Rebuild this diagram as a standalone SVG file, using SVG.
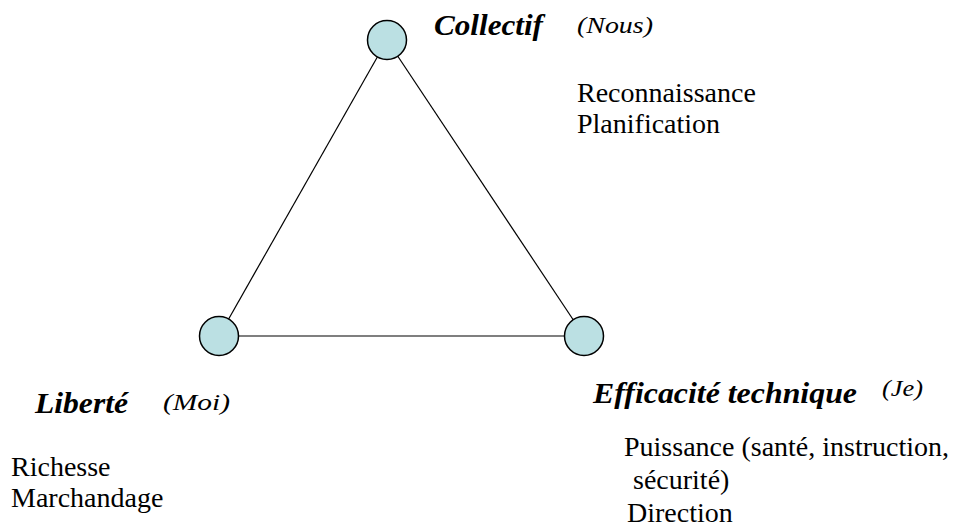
<svg xmlns="http://www.w3.org/2000/svg" width="961" height="524" viewBox="0 0 961 524">
<style>
.node{fill:#bbe0e3;stroke:#000;stroke-width:1.5}
.edge{stroke:#000;stroke-width:1.2;fill:none}
text{font-family:"Liberation Serif","DejaVu Serif",serif;fill:#000}
.title{font-weight:bold;font-style:italic;font-size:30px}
.pron{font-style:italic;font-size:24px}
.body{font-style:normal;font-weight:normal;font-size:28px}
</style>
<rect width="961" height="524" fill="#fff"/>
<g id="connectors">
<line class="edge" x1="387" y1="40" x2="219" y2="336"/>
<line class="edge" x1="387" y1="40" x2="584" y2="336"/>
<line class="edge" x1="219" y1="336" x2="584" y2="336"/>
</g>
<g id="node-collectif">
<circle class="node" cx="387" cy="40" r="19.5"/>
<text class="title" x="434" y="35" textLength="109" lengthAdjust="spacingAndGlyphs">Collectif</text>
<text class="pron" x="577" y="33" textLength="76" lengthAdjust="spacingAndGlyphs">(Nous)</text>
<text class="body" x="577" y="102" font-family="Liberation Serif, serif">Reconnaissance</text>
<text class="body" x="577" y="133" font-family="Liberation Serif, serif">Planification</text>
</g>
<g id="node-liberte">
<circle class="node" cx="219" cy="336" r="19.5"/>
<text class="title" x="35" y="413" textLength="93" lengthAdjust="spacingAndGlyphs">Liberté</text>
<text class="pron" x="163" y="410" textLength="67" lengthAdjust="spacingAndGlyphs">(Moi)</text>
<text class="body" x="11" y="476">Richesse</text>
<text class="body" x="11" y="507">Marchandage</text>
</g>
<g id="node-efficacite">
<circle class="node" cx="584" cy="336" r="19.5"/>
<text class="title" x="593" y="403" textLength="264" lengthAdjust="spacingAndGlyphs">Efficacité technique</text>
<text class="pron" x="882" y="396" textLength="41" lengthAdjust="spacingAndGlyphs">(Je)</text>
<text class="body" x="624" y="456">Puissance (santé, instruction,</text>
<text class="body" x="633" y="489">sécurité)</text>
<text class="body" x="627" y="522">Direction</text>
</g>
</svg>
